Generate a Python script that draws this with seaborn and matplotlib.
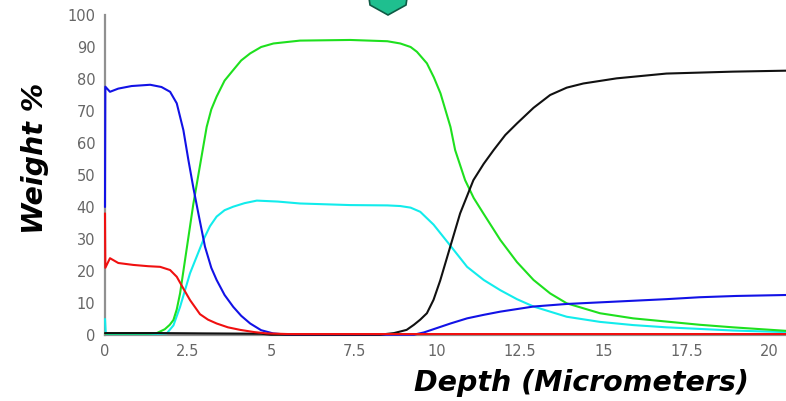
import matplotlib
matplotlib.use("Agg")
import matplotlib.pyplot as plt
from matplotlib.patches import Polygon
import seaborn as sns
import pandas as pd

# Depth profile (weight % vs depth in micrometers), one series per element trace
blue_x = [0, 0.01, 0.15, 0.4, 0.8, 1.36, 1.7, 1.96, 2.16, 2.36, 2.51, 2.66, 2.81,
          3.01, 3.2, 3.36, 3.6, 3.86, 4.1, 4.37, 4.7, 5.06, 5.5, 9.3, 9.6, 10.0,
          10.4, 10.9, 11.4, 11.9, 12.9, 13.9, 14.9, 15.9, 16.9, 17.9, 19.0, 20.5]
blue_y = [40, 77.6, 76, 77, 77.8, 78.2, 77.5, 76, 72.4, 64, 54.7, 46, 38,
          27.6, 21, 17.2, 12.5, 8.8, 6, 3.6, 1.5, 0.5, 0.1, 0.1, 0.8, 2.2,
          3.6, 5.2, 6.3, 7.3, 8.9, 9.7, 10.2, 10.7, 11.2, 11.8, 12.2, 12.5]

green_x = [0, 1.3, 1.56, 1.8, 1.95, 2.06, 2.16, 2.26, 2.46, 2.66, 2.86, 3.06, 3.2,
           3.36, 3.6, 3.86, 4.1, 4.37, 4.7, 5.07, 5.87, 7.38, 8.5, 8.89, 9.2, 9.39,
           9.69, 9.9, 10.1, 10.4, 10.54, 10.84, 11.1, 11.39, 11.9, 12.4, 12.9, 13.4,
           13.9, 14.9, 15.9, 16.9, 17.9, 18.9, 20.5]
green_y = [0.5, 0.5, 0.6, 1.8, 3.2, 4.7, 8, 13, 27, 41, 53, 65, 70.5,
           74.5, 79.5, 82.8, 85.8, 88, 90, 91.1, 92, 92.2, 91.8, 91.1, 90, 88.5,
           84.9, 80.5, 75.5, 65, 57.8, 48.4, 42.8, 38, 29.7, 22.8, 17.2, 13,
           9.9, 6.8, 5.2, 4.2, 3.2, 2.4, 1.3]

cyan_x = [0, 0.02, 0.05, 1.5, 1.86, 2.06, 2.26, 2.56, 2.96, 3.16, 3.36, 3.6, 3.86,
          4.2, 4.57, 5.2, 5.87, 7.38, 8.5, 8.89, 9.2, 9.49, 9.89, 10.39, 10.9,
          11.4, 11.9, 12.4, 12.9, 13.9, 14.9, 15.9, 16.9, 17.9, 18.9, 20.5]
cyan_y = [5, 1, 0.3, 0.3, 0.5, 3, 8.8, 19.3, 29.7, 34, 37, 39, 40.1,
          41.2, 42, 41.7, 41.1, 40.6, 40.5, 40.3, 39.8, 38.5, 34.5, 28, 21.3,
          17.2, 14, 11.2, 8.9, 5.7, 4.1, 3.1, 2.4, 1.9, 1.4, 0.9]

red_x = [0, 0.01, 0.15, 0.4, 0.85, 1.3, 1.66, 1.96, 2.16, 2.36, 2.56, 2.86, 3.1,
         3.36, 3.7, 4.07, 4.5, 4.87, 5.5, 20.5]
red_y = [38, 21, 24, 22.5, 21.9, 21.5, 21.3, 20.3, 18.2, 14.5, 10.9, 6.5, 4.8,
         3.6, 2.4, 1.6, 0.9, 0.5, 0.3, 0.3]

black_x = [0, 1.6, 3.0, 4.7, 5.0, 8.28, 8.7, 9.08, 9.3, 9.49, 9.69, 9.89, 10.09,
           10.29, 10.49, 10.69, 11.09, 11.4, 11.7, 12.05, 12.4, 12.9, 13.4, 13.9,
           14.4, 15.4, 16.9, 18.9, 20.5]
black_y = [0.6, 0.6, 0.5, 0.4, 0.1, 0.1, 0.6, 1.6, 3.2, 4.8, 6.8, 11, 17,
           24, 31, 38, 48.4, 53.5, 57.8, 62.5, 66.1, 71, 75, 77.3,
           78.6, 80.2, 81.7, 82.3, 82.6]

y_ticks = [0, 10, 20, 30, 40, 50, 60, 70, 80, 90, 100]
x_ticks = [0, 2.5, 5, 7.5, 10, 12.5, 15, 17.5, 20]
x_tick_labels = ["0", "2.5", "5", "7.5", "10", "12.5", "15", "17.5", "20"]

series = [
    ("cyan", cyan_x, cyan_y, "#12ecec"),
    ("green", green_x, green_y, "#1ee01e"),
    ("blue", blue_x, blue_y, "#1212e6"),
    ("black", black_x, black_y, "#111111"),
    ("red", red_x, red_y, "#f01010"),
]

sns.set_style("white")
plt.rcParams["font.family"] = ["DejaVu Sans"]

W, H = 786, 401
fig = plt.figure(figsize=(W / 100, H / 100), dpi=100)
ax = fig.add_axes([105 / W, 1 - 335 / H, 681 / W, 320 / H])

for name, xs, ys, col in series:
    df = pd.DataFrame({"depth": xs, "weight": ys})
    sns.lineplot(data=df, x="depth", y="weight", color=col, lw=1.5,
                 sort=False, estimator=None, ax=ax, clip_on=False)

ax.set_xlim(0, 20.5)
ax.set_ylim(0, 100)
ax.set_xticks(x_ticks)
ax.set_xticklabels(x_tick_labels)
ax.set_yticks(y_ticks)
ax.tick_params(axis="both", length=0, labelsize=10.5, labelcolor="#666666")
ax.tick_params(axis="x", pad=6.5)
ax.tick_params(axis="y", pad=7)

for side in ("top", "right"):
    ax.spines[side].set_visible(False)
for side in ("left", "bottom"):
    ax.spines[side].set_color("#909090")
    ax.spines[side].set_linewidth(1.6)
    ax.spines[side].set_zorder(0)

ax.set_xlabel("Depth (Micrometers)", fontsize=20.5, fontweight="bold",
              fontstyle="oblique", color="black")
ax.set_ylabel("Weight %", fontsize=20.5, fontweight="bold",
              fontstyle="oblique", color="black")
ax.xaxis.label.set_va("center")
ax.yaxis.label.set_va("center")
ax.xaxis.set_label_coords((581.5 - 105) / 681, (335 - 383) / 320)
ax.yaxis.set_label_coords((35 - 105) / 681, (335 - 158) / 320)

# teal pointer at the top edge
pts = [(369, -2), (370, 5), (388, 15), (406, 5), (407, -2)]
arrow = Polygon([(px / W, 1 - py / H) for px, py in pts], closed=True,
                transform=fig.transFigure, facecolor="#1fbf8f",
                edgecolor="#0e5a44", lw=1.2, clip_on=False)
fig.patches.append(arrow)

fig.savefig("out.png", dpi=100)
